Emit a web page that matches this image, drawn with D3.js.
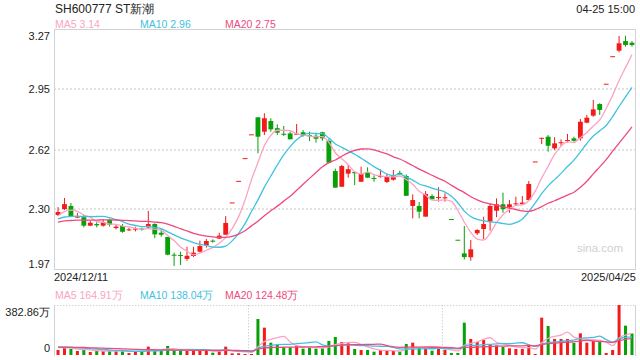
<!DOCTYPE html>
<html>
<head>
<meta charset="utf-8">
<script src="https://cdn.jsdelivr.net/npm/d3@7"></script>
<style>
  body { margin: 0; background: #fff; }
  svg { display: block; font-family: "Liberation Sans", Arial, sans-serif; }
</style>
</head>
<body>
<svg id="chart" width="640" height="360"></svg>
<script>
// trading days shown
var dates = [
  "2024/12/11","2024/12/12","2024/12/13","2024/12/16","2024/12/17","2024/12/18","2024/12/19","2024/12/20",
  "2024/12/23","2024/12/24","2024/12/25","2024/12/26","2024/12/27","2024/12/30","2024/12/31",
  "2025/01/02","2025/01/03","2025/01/06","2025/01/07","2025/01/08","2025/01/09","2025/01/10","2025/01/13",
  "2025/01/14","2025/01/15","2025/01/16","2025/01/17","2025/01/20","2025/01/21","2025/01/22","2025/01/23",
  "2025/01/24","2025/01/27",
  "2025/02/05","2025/02/06","2025/02/07","2025/02/10","2025/02/11","2025/02/12","2025/02/13","2025/02/14",
  "2025/02/17","2025/02/18","2025/02/19","2025/02/20","2025/02/21","2025/02/24","2025/02/25","2025/02/26",
  "2025/02/27","2025/02/28",
  "2025/03/03","2025/03/04","2025/03/05","2025/03/06","2025/03/07","2025/03/10","2025/03/11","2025/03/12",
  "2025/03/13","2025/03/14","2025/03/17","2025/03/18","2025/03/19","2025/03/20","2025/03/21","2025/03/24",
  "2025/03/25","2025/03/26","2025/03/27","2025/03/28","2025/03/31",
  "2025/04/01","2025/04/02","2025/04/03","2025/04/07","2025/04/08","2025/04/09","2025/04/10","2025/04/11",
  "2025/04/14","2025/04/15","2025/04/16","2025/04/17","2025/04/18","2025/04/21","2025/04/22","2025/04/23",
  "2025/04/24","2025/04/25"
];

var opens = [
  2.268,2.300,2.317,2.257,2.256,2.210,2.219,2.210,2.241,2.197,2.208,2.185,2.190,2.194,2.201,
  2.219,2.172,2.149,2.053,2.051,2.030,2.046,2.069,2.104,2.129,2.140,2.161,2.336,2.453,2.576,
  2.705,2.797,2.719,2.777,2.738,2.708,2.710,2.705,2.716,2.701,2.697,2.716,2.669,2.506,2.421,
  2.492,2.501,2.448,2.501,2.468,2.474,2.447,2.459,2.496,2.479,2.317,2.317,2.259,2.371,2.362,
  2.360,2.246,2.134,2.060,2.039,2.169,2.192,2.232,2.291,2.326,2.310,2.326,2.327,2.349,2.558,
  2.686,2.692,2.629,2.658,2.670,2.683,2.683,2.768,2.806,2.869,2.979,3.128,3.158,3.210,3.201
];
var highs = [
  2.311,2.360,2.333,2.279,2.268,2.237,2.229,2.246,2.248,2.215,2.219,2.199,2.205,2.199,2.290,
  2.223,2.192,2.149,2.064,2.069,2.096,2.096,2.129,2.138,2.136,2.172,2.262,2.336,2.453,2.576,
  2.705,2.797,2.819,2.792,2.759,2.750,2.719,2.761,2.728,2.719,2.710,2.719,2.678,2.519,2.539,
  2.539,2.502,2.530,2.526,2.483,2.515,2.490,2.512,2.508,2.488,2.380,2.338,2.398,2.380,2.418,
  2.385,2.246,2.134,2.208,2.133,2.190,2.259,2.331,2.358,2.389,2.349,2.367,2.371,2.452,2.558,
  2.686,2.701,2.689,2.678,2.707,2.692,2.788,2.810,2.891,2.873,2.979,3.128,3.238,3.239,3.210
];
var lows = [
  2.262,2.295,2.256,2.252,2.201,2.208,2.201,2.205,2.205,2.190,2.172,2.181,2.179,2.183,2.197,
  2.142,2.150,2.050,1.992,1.997,2.020,2.040,2.066,2.091,2.118,2.138,2.160,2.336,2.453,2.576,
  2.705,2.602,2.701,2.719,2.701,2.696,2.678,2.701,2.692,2.669,2.660,2.670,2.548,2.416,2.421,
  2.470,2.430,2.448,2.470,2.448,2.470,2.441,2.454,2.483,2.371,2.250,2.250,2.259,2.353,2.340,
  2.340,2.246,2.134,2.027,2.020,2.160,2.138,2.183,2.256,2.280,2.280,2.322,2.327,2.349,2.558,
  2.652,2.611,2.620,2.642,2.660,2.665,2.670,2.765,2.800,2.810,2.979,3.128,3.149,3.180,3.180
];
var closes = [
  2.284,2.327,2.259,2.259,2.210,2.226,2.212,2.230,2.215,2.205,2.177,2.190,2.194,2.190,2.219,
  2.163,2.161,2.053,2.050,2.047,2.047,2.064,2.100,2.127,2.126,2.156,2.225,2.336,2.453,2.576,
  2.705,2.692,2.792,2.732,2.714,2.705,2.678,2.708,2.697,2.694,2.681,2.683,2.551,2.416,2.533,
  2.516,2.494,2.490,2.470,2.465,2.479,2.474,2.483,2.492,2.372,2.349,2.286,2.382,2.353,2.365,
  2.364,2.246,2.134,2.040,2.082,2.187,2.219,2.317,2.326,2.299,2.326,2.331,2.335,2.436,2.558,
  2.686,2.643,2.656,2.662,2.674,2.670,2.773,2.795,2.840,2.837,2.979,3.128,3.198,3.189,3.189
];
// volume, 万股
var volumes = [
  38.3,56.1,45.9,30.6,38.3,23.0,30.6,30.6,30.6,30.6,30.6,15.3,28.1,30.6,63.8,
  33.2,35.7,68.9,38.3,38.3,33.2,35.7,35.7,35.7,17.9,28.1,63.8,12.8,12.8,7.7,
  7.7,275.7,209.3,94.4,76.6,58.7,58.7,71.5,48.5,56.1,48.5,51.0,107.2,137.8,99.5,
  89.3,45.9,38.3,38.3,25.5,38.3,33.2,30.6,25.5,84.2,94.4,56.1,56.1,33.2,51.0,
  40.8,15.3,15.3,247.6,122.5,99.5,114.9,76.6,74.0,61.3,51.0,45.9,45.9,79.1,7.7,
  285.8,222.1,122.5,122.5,122.5,91.9,165.9,94.4,109.7,104.7,15.0,38.0,382.86,224.6,165.0
];
// the 19 sessions before the window, needed for the moving averages
var prevCloses = [2.20,2.22,2.21,2.23,2.22,2.20,2.21,2.22,2.21,2.21,2.22,2.23,2.24,2.23,2.23,2.21,2.22,2.29,2.31];
var prevVolumes = [62,58,70,55,66,60,52,75,64,58,61,57,69,63,55,72,60,66,58];

var priceTicks = [1.97, 2.30, 2.62, 2.95, 3.27];
var maPeriods = [5, 10, 20];
var maColors = ["#fba3c3", "#3fc2e0", "#ee4a7d"];
var priceLegend = ["MA5 3.14", "MA10 2.96", "MA20 2.75"];
var volLegend = ["MA5 164.91万", "MA10 138.04万", "MA20 124.48万"];
var volMaxLabel = "382.86万";

var upColor = "#f31a1a", downColor = "#07a007";

var svg = d3.select("#chart");
var left = 54, right = 636;
var top1 = 30, bottom1 = 270;
var top2 = 305, bottom2 = 355;

var x = d3.scaleBand().domain(dates).range([left, right]).padding(0.25);
var bw = x.bandwidth();
var y = d3.scaleLinear().domain([1.97, 3.27]).range([bottom1, top1]);
var yv = d3.scaleLinear().domain([0, 382.86]).range([bottom2, top2]);

function cx(i) { return x(dates[i]) + bw / 2; }

function isUp(i) {
  if (closes[i] > opens[i]) return true;
  if (closes[i] < opens[i]) return false;
  var prev = i > 0 ? closes[i - 1] : prevCloses[prevCloses.length - 1];
  return closes[i] >= prev;
}

function movingAvg(all, n, offset) {
  return d3.range(dates.length).map(function(i) {
    return d3.mean(all.slice(i + offset - n + 1, i + offset + 1));
  });
}

// header texts
svg.append("text").attr("x", 55).attr("y", 12.5).attr("font-size", 12).attr("fill", "#222")
  .text("SH600777 ST新潮");
svg.append("text").attr("x", 635).attr("y", 12.5).attr("font-size", 11).attr("fill", "#222")
  .attr("text-anchor", "end").text("04-25 15:00");

var legendX = [55, 140, 225];
priceLegend.forEach(function(t, k) {
  svg.append("text").attr("x", legendX[k]).attr("y", 28).attr("font-size", 10.5)
    .attr("fill", maColors[k]).text(t);
});

// price grid
svg.append("g").selectAll("line")
  .data(priceTicks.slice(1, -1))
  .enter().append("line")
  .attr("x1", left).attr("x2", right)
  .attr("y1", function(d) { return y(d); }).attr("y2", function(d) { return y(d); })
  .attr("stroke", "#e2e2e2").attr("stroke-width", 2).attr("stroke-dasharray", "2,2");

svg.append("rect").attr("x", left + 0.5).attr("y", top1 - 0.5)
  .attr("width", right - left - 1).attr("height", bottom1 - top1)
  .attr("fill", "none").attr("stroke", "#d2d2d2");

// y axis labels
var yAxis = svg.append("g").attr("transform", "translate(" + left + ",0)")
  .call(d3.axisLeft(y).tickValues(priceTicks).tickSize(0).tickPadding(4).tickFormat(d3.format(".2f")));
yAxis.select(".domain").remove();
yAxis.selectAll("text").attr("font-size", 11).attr("fill", "#222").attr("font-family", null)
  .attr("dy", function(d, i) {
    if (i === 0) return "-0.25em";
    if (i === priceTicks.length - 1) return "0.85em";
    return "0.35em";
  });

// candles
var candles = svg.append("g").selectAll("g")
  .data(d3.range(dates.length))
  .enter().append("g")
  .attr("fill", function(i) { return isUp(i) ? upColor : downColor; })
  .attr("stroke", function(i) { return isUp(i) ? upColor : downColor; });

candles.append("line")
  .attr("x1", cx).attr("x2", cx)
  .attr("y1", function(i) { return y(highs[i]); })
  .attr("y2", function(i) { return y(lows[i]); })
  .attr("stroke-width", 1);

candles.append("rect")
  .attr("stroke", "none")
  .attr("x", function(i) { return x(dates[i]); })
  .attr("width", bw)
  .attr("y", function(i) { return y(Math.max(opens[i], closes[i])); })
  .attr("height", function(i) { return Math.max(1, Math.abs(y(opens[i]) - y(closes[i]))); });

// price moving averages
var allCloses = prevCloses.concat(closes);
maPeriods.forEach(function(n, k) {
  var ma = movingAvg(allCloses, n, prevCloses.length);
  svg.append("path")
    .datum(ma)
    .attr("fill", "none").attr("stroke", maColors[k]).attr("stroke-width", 1.3)
    .attr("d", d3.line().x(function(d, i) { return cx(i); }).y(function(d) { return y(d); })
      .curve(d3.curveMonotoneX));
});

// watermark
svg.append("text").attr("x", 623).attr("y", 252).attr("text-anchor", "end")
  .attr("font-size", 11.5).attr("fill", "#d0d0d0").text("sina.com");

// date labels
svg.append("text").attr("x", left).attr("y", 281).attr("font-size", 11).attr("fill", "#222")
  .text(dates[0]);
svg.append("text").attr("x", right).attr("y", 281).attr("font-size", 11).attr("fill", "#222")
  .attr("text-anchor", "end").text(dates[dates.length - 1]);

// volume panel
volLegend.forEach(function(t, k) {
  svg.append("text").attr("x", legendX[k]).attr("y", 298.5).attr("font-size", 10.5)
    .attr("fill", maColors[k]).text(t);
});

svg.append("line").attr("x1", left).attr("x2", right).attr("y1", top2 + 0.5).attr("y2", top2 + 0.5)
  .attr("stroke", "#d2d2d2").attr("stroke-dasharray", "1.5,1.5");
[1, 2].forEach(function(k) {
  var xx = Math.round(left + (right - left) * k / 3) + 0.5;
  svg.append("line").attr("x1", xx).attr("x2", xx).attr("y1", top2).attr("y2", bottom2)
    .attr("stroke", "#d2d2d2").attr("stroke-dasharray", "1.5,1.5");
});
svg.append("line").attr("x1", left + 0.5).attr("x2", left + 0.5).attr("y1", top2).attr("y2", bottom2 + 1)
  .attr("stroke", "#d2d2d2");
svg.append("line").attr("x1", right - 0.5).attr("x2", right - 0.5).attr("y1", top2).attr("y2", bottom2 + 1)
  .attr("stroke", "#d2d2d2");

svg.append("text").attr("x", 50).attr("y", 315.5).attr("text-anchor", "end")
  .attr("font-size", 11).attr("fill", "#222").text(volMaxLabel);
svg.append("text").attr("x", 50).attr("y", 351.5).attr("text-anchor", "end")
  .attr("font-size", 11).attr("fill", "#222").text("0");

svg.append("g").selectAll("rect")
  .data(d3.range(dates.length))
  .enter().append("rect")
  .attr("x", function(i) { return cx(i) - 1.5; })
  .attr("width", 3)
  .attr("y", function(i) { return yv(volumes[i]); })
  .attr("height", function(i) { return bottom2 - yv(volumes[i]); })
  .attr("fill", function(i) { return isUp(i) ? upColor : downColor; });

var allVolumes = prevVolumes.concat(volumes);
maPeriods.forEach(function(n, k) {
  var ma = movingAvg(allVolumes, n, prevVolumes.length);
  svg.append("path")
    .datum(ma)
    .attr("fill", "none").attr("stroke", maColors[k]).attr("stroke-width", 1.3)
    .attr("d", d3.line().x(function(d, i) { return cx(i); }).y(function(d) { return yv(d); })
      .curve(d3.curveMonotoneX));
});
</script>
</body>
</html>
